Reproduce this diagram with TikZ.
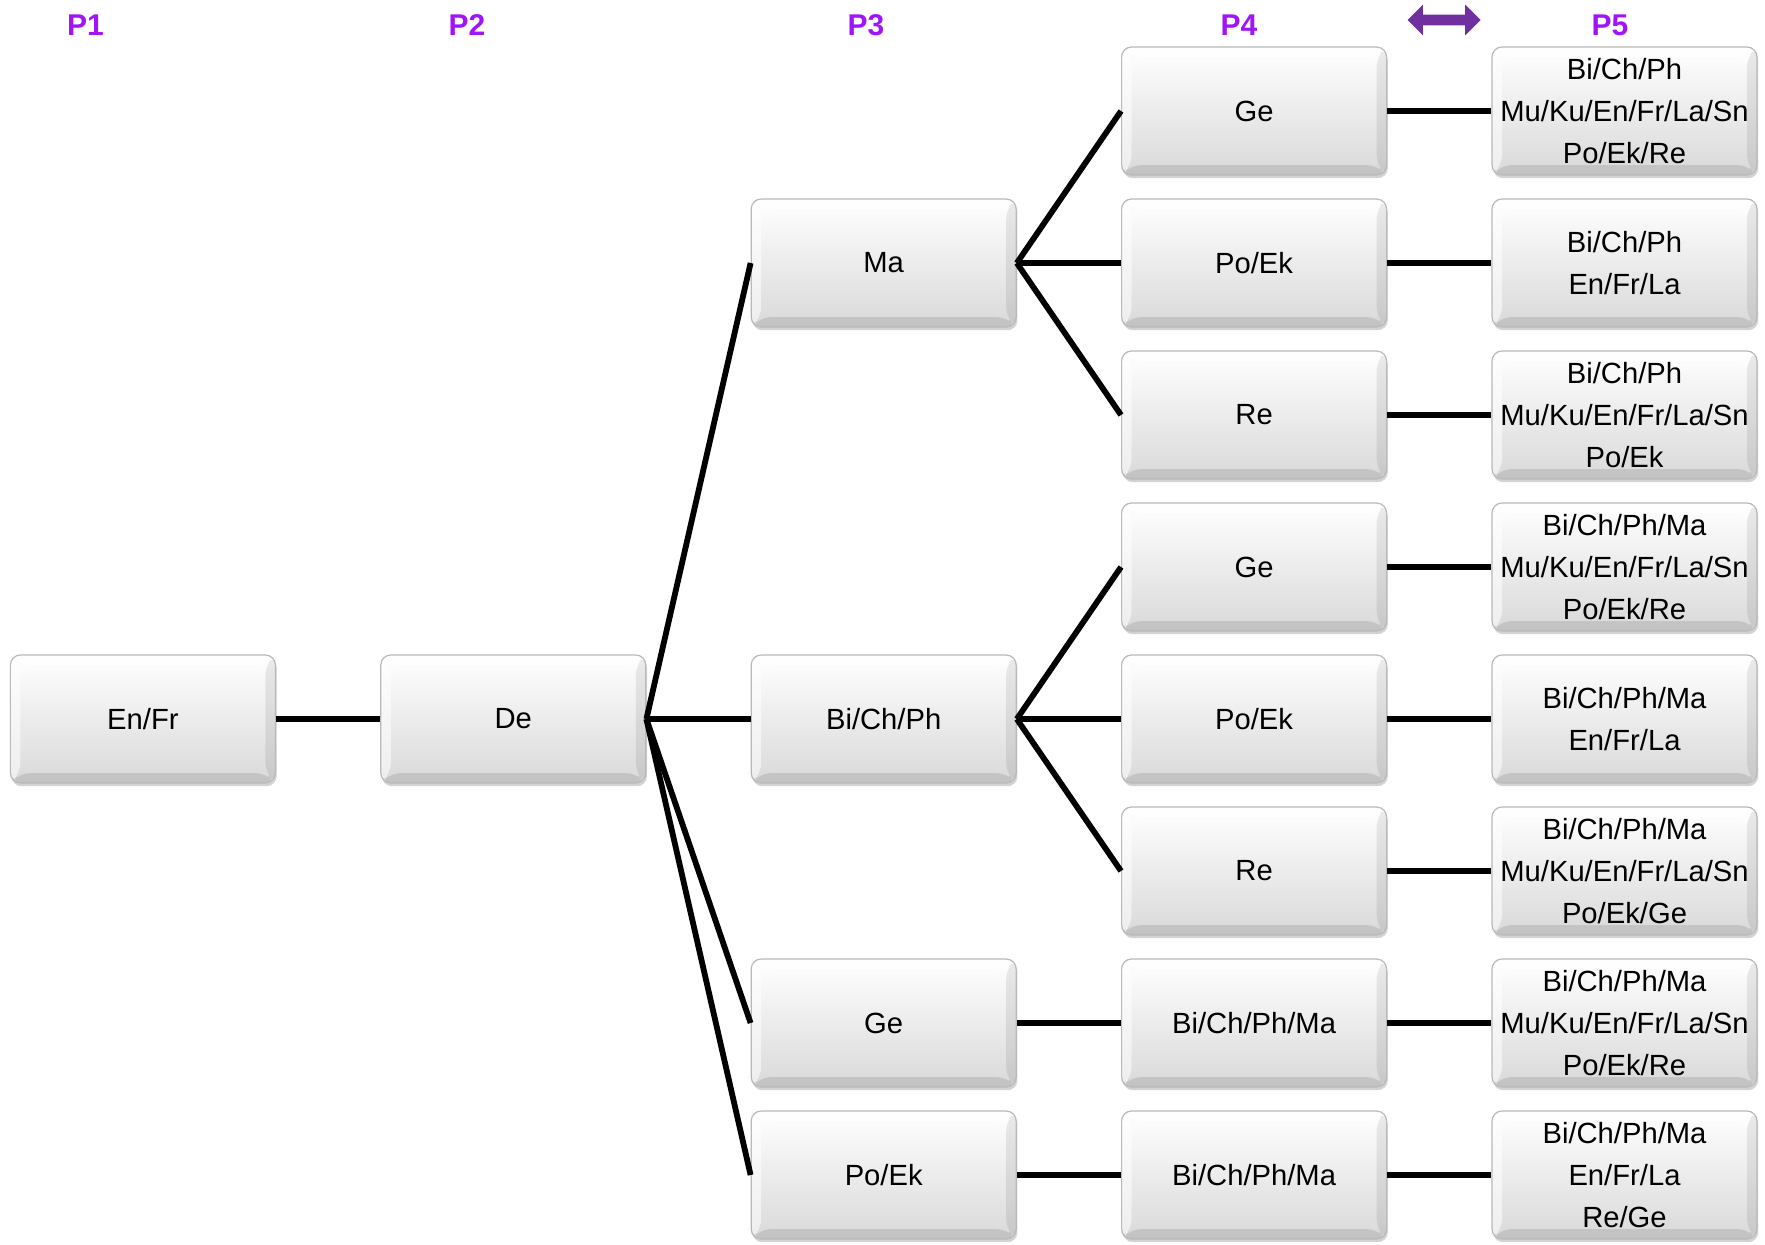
\documentclass[tikz,border=0pt]{standalone}
\usepackage{fontspec}
\setmainfont{Liberation Sans}
\usetikzlibrary{matrix,shadows,shapes.arrows}
\definecolor{hdrviolet}{RGB}{160,20,250}
\definecolor{arrowviolet}{RGB}{112,48,160}
\tikzset{
  keybox/.style={rectangle, rounded corners=5pt, draw=gray!55, line width=0.6pt,
    top color=white, bottom color=black!15, minimum width=132.5pt, minimum height=64pt,
    inner sep=0pt, align=center, font=\fontsize{14.6}{20.8}\selectfont,
    drop shadow={shadow xshift=0.6pt, shadow yshift=-1.6pt, opacity=0.35},
    path picture={
      \coordinate (bnw) at (path picture bounding box.north west);
      \coordinate (bne) at (path picture bounding box.north east);
      \coordinate (bsw) at (path picture bounding box.south west);
      \coordinate (bse) at (path picture bounding box.south east);
      \fill[white,opacity=0.7] (bnw) -- ([shift={(5pt,-5pt)}]bnw) -- ([shift={(-5pt,-5pt)}]bne) -- (bne) -- cycle;
      \fill[white,opacity=0.55] (bnw) -- ([shift={(5pt,-5pt)}]bnw) -- ([shift={(5pt,5pt)}]bsw) -- (bsw) -- cycle;
      \fill[black,opacity=0.08] (bne) -- ([shift={(-5pt,-5pt)}]bne) -- ([shift={(-5pt,5pt)}]bse) -- (bse) -- cycle;
      \fill[black,opacity=0.1] (bsw) -- ([shift={(5pt,5pt)}]bsw) -- ([shift={(-5pt,5pt)}]bse) -- (bse) -- cycle;
    }},
  link/.style={line width=2.9pt, black},
  phase/.style={text=hdrviolet, font=\fontsize{15}{18}\selectfont\bfseries}
}
\begin{document}
\begin{tikzpicture}
    \useasboundingbox (0,0) rectangle (882.5pt,-622pt);
    \matrix (m) [matrix anchor=north west, inner sep=0pt, column sep=52.1pt, row sep=11.4pt,
      ampersand replacement=\&] at (4.7pt,-23pt) {
      \& \& \& \node[keybox] (geA) {Ge}; \&
      \node[keybox] (fA) {Bi/Ch/Ph\\Mu/Ku/En/Fr/La/Sn\\Po/Ek/Re}; \\
      \& \& \node[keybox] (ma) {Ma}; \& \node[keybox] (poekA) {Po/Ek}; \&
      \node[keybox] (fB) {Bi/Ch/Ph\\En/Fr/La}; \\
      \& \& \& \node[keybox] (reA) {Re}; \&
      \node[keybox] (fC) {Bi/Ch/Ph\\Mu/Ku/En/Fr/La/Sn\\Po/Ek}; \\
      \& \& \& \node[keybox] (geB) {Ge}; \&
      \node[keybox] (fD) {Bi/Ch/Ph/Ma\\Mu/Ku/En/Fr/La/Sn\\Po/Ek/Re}; \\
      \node[keybox] (enfr) {En/Fr}; \& \node[keybox] (de) {De}; \&
      \node[keybox] (bcp) {Bi/Ch/Ph}; \& \node[keybox] (poekB) {Po/Ek}; \&
      \node[keybox] (fE) {Bi/Ch/Ph/Ma\\En/Fr/La}; \\
      \& \& \& \node[keybox] (reB) {Re}; \&
      \node[keybox] (fF) {Bi/Ch/Ph/Ma\\Mu/Ku/En/Fr/La/Sn\\Po/Ek/Ge}; \\
      \& \& \node[keybox] (geC) {Ge}; \& \node[keybox] (bcpmA) {Bi/Ch/Ph/Ma}; \&
      \node[keybox] (fG) {Bi/Ch/Ph/Ma\\Mu/Ku/En/Fr/La/Sn\\Po/Ek/Re}; \\
      \& \& \node[keybox] (poekC) {Po/Ek}; \& \node[keybox] (bcpmB) {Bi/Ch/Ph/Ma}; \&
      \node[keybox] (fH) {Bi/Ch/Ph/Ma\\En/Fr/La\\Re/Ge}; \\
      };
    % phase headings
    \node[phase] (p1) at (42.75pt,-12.5pt) {P1};
    \node[phase] (p2) at (233.5pt,-12.5pt) {P2};
    \node[phase] (p3) at (433pt,-12.5pt) {P3};
    \node[phase] (p4) at (619.5pt,-12.5pt) {P4};
    \node[phase] (p5) at (805pt,-12.5pt) {P5};
    \node[double arrow, fill=arrowviolet, inner sep=2.5pt, minimum height=36.5pt,
      double arrow head extend=5pt] (swap) at (722pt,-10pt) {};
    \path[link]
      (enfr) edge (de)
      (de.east) edge (ma.west) edge (bcp.west) edge (geC.west) edge (poekC.west)
      (ma.east) edge (geA.west) edge (poekA.west) edge (reA.west)
      (bcp.east) edge (geB.west) edge (poekB.west) edge (reB.west)
      (geC) edge (bcpmA)
      (poekC) edge (bcpmB)
      (geA) edge (fA) (poekA) edge (fB) (reA) edge (fC)
      (geB) edge (fD) (poekB) edge (fE) (reB) edge (fF)
      (bcpmA) edge (fG) (bcpmB) edge (fH);
  \end{tikzpicture}
\end{document}
